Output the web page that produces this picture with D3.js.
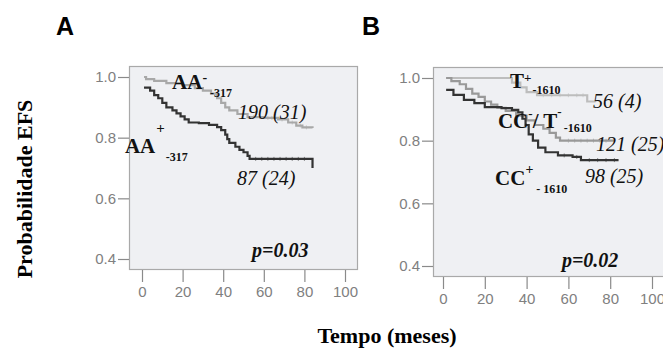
<!DOCTYPE html>
<html>
<head>
<meta charset="utf-8">
<script src="https://cdn.jsdelivr.net/npm/d3@7"></script>
<style>
  body { margin: 0; background: #fff; }
  svg { display: block; }
</style>
</head>
<body>
<svg id="chart" width="663" height="351"></svg>
<script>
// tick values
const ticksX = [0, 20, 40, 60, 80, 100];
const ticksY = [0.4, 0.6, 0.8, 1.0];

// panel A, AA- (gray) and AA+ (black)
const aNegTime = [1, 2, 6, 12, 20, 26, 30, 34, 37, 39, 41, 43, 47, 52, 60, 67, 72, 76, 79, 84];
const aNegSurv = [1.0, 0.993, 0.987, 0.98, 0.973, 0.963, 0.955, 0.945, 0.93, 0.915, 0.9, 0.89, 0.878, 0.868, 0.865, 0.86, 0.85, 0.84, 0.834, 0.832];
const aNegCens = [55, 58, 62, 64, 69, 74, 78, 81];

const aPosTime = [1, 4, 6, 8, 10, 12, 15, 17, 19, 21, 23, 28, 33, 37, 39, 41, 42, 43, 46, 48, 50, 52, 53, 84];
const aPosSurv = [0.965, 0.955, 0.94, 0.93, 0.915, 0.9, 0.89, 0.88, 0.87, 0.86, 0.85, 0.848, 0.842, 0.835, 0.825, 0.81, 0.795, 0.783, 0.77, 0.76, 0.752, 0.74, 0.73, 0.70];
const aPosCens = [56, 59, 62, 65, 68, 71, 74, 77, 80];

// panel B, T+ (light), CC-/T- (mid gray), CC+ (black)
const bTpTime = [1.5, 33, 37, 40, 45, 69, 73];
const bTpSurv = [1.0, 0.985, 0.97, 0.955, 0.945, 0.925, 0.925];
const bTpCens = [48, 52, 56, 60, 64, 67];

const bMidTime = [1.5, 4, 8, 11, 14, 17, 20, 23, 26, 30, 35, 40, 44, 48, 51, 54, 56, 82];
const bMidSurv = [1.0, 0.99, 0.98, 0.965, 0.95, 0.94, 0.925, 0.915, 0.905, 0.895, 0.88, 0.865, 0.85, 0.838, 0.825, 0.81, 0.80, 0.80];
const bMidCens = [60, 63, 66, 69, 72, 75, 78];

const bCCTime = [1.5, 5, 10, 15, 20, 28, 33, 36, 38, 39.5, 41, 43, 45.5, 49, 55, 62, 66, 84];
const bCCSurv = [0.962, 0.946, 0.93, 0.92, 0.907, 0.904, 0.898, 0.89, 0.87, 0.85, 0.82, 0.80, 0.778, 0.763, 0.753, 0.748, 0.738, 0.738];
const bCCCens = [58, 64, 70, 74, 78, 82];

const serif = "'Liberation Serif', 'Times New Roman', serif";
const sans = "'Liberation Sans', Arial, sans-serif";

let svg = d3.select("#chart");

function zip(t, s) {
    return t.map((d, i) => ({t: d, s: s[i]}));
}

// survival at time t (step function)
function survAt(time, surv, t) {
    let v = surv[0];
    for (let i = 0; i < time.length; i++) {
        if (time[i] <= t) v = surv[i];
    }
    return v;
}

function drawPanel(cfg) {
    let g = svg.append("g");

    let x = d3.scaleLinear().domain([0, 100]).range(cfg.xRange);
    let y = d3.scaleLinear().domain([0.4, 1.0]).range(cfg.yRange);

    // frame
    g.append("rect")
        .attr("x", cfg.box[0] + 0.5)
        .attr("y", cfg.box[1] + 0.5)
        .attr("width", cfg.box[2] - cfg.box[0])
        .attr("height", cfg.box[3] - cfg.box[1])
        .attr("fill", "#eff0f3")
        .attr("stroke", "#a9a9a9")
        .attr("stroke-width", 1.2);

    // y axis
    let ya = g.append("g")
        .attr("transform", `translate(${cfg.box[0]},0)`)
        .call(d3.axisLeft(y).tickValues(ticksY).tickFormat(d3.format(".1f")).tickSize(11).tickPadding(2));
    ya.select(".domain").remove();
    ya.selectAll("line").attr("stroke", "#8a8a8a").attr("stroke-width", 1.2);
    ya.selectAll("text").attr("fill", "#808080").style("font-family", sans).style("font-size", "15px");

    // x axis
    let xa = g.append("g")
        .attr("transform", `translate(0,${cfg.box[3] + 1})`)
        .call(d3.axisBottom(x).tickValues(ticksX).tickSize(12).tickPadding(4));
    xa.select(".domain").remove();
    xa.selectAll("line").attr("stroke", "#8a8a8a").attr("stroke-width", 1.2);
    xa.selectAll("text").attr("fill", "#808080").style("font-family", sans).style("font-size", "15px");

    let line = d3.line()
        .x(d => x(d.t))
        .y(d => y(d.s))
        .curve(d3.curveStepAfter);

    cfg.series.forEach(function (se) {
        g.append("path")
            .datum(zip(se.time, se.surv))
            .attr("d", line)
            .attr("fill", "none")
            .attr("stroke", se.color)
            .attr("stroke-width", 2.2);

        // censor marks
        g.selectAll(null)
            .data(se.cens)
            .enter().append("line")
            .attr("x1", d => x(d))
            .attr("x2", d => x(d))
            .attr("y1", d => y(survAt(se.time, se.surv, d)) - 2)
            .attr("y2", d => y(survAt(se.time, se.surv, d)) + 2)
            .attr("stroke", se.color)
            .attr("stroke-opacity", 0.7)
            .attr("stroke-width", 0.8);
    });

    // curve labels with super/subscripts
    cfg.labels.forEach(function (lb) {
        let txt = g.append("text")
            .attr("x", x(lb.t))
            .attr("y", y(lb.s))
            .attr("fill", "#111")
            .style("font-family", serif);
        lb.parts.forEach(function (p) {
            txt.append("tspan")
                .attr("dy", p.dy || 0)
                .attr("dx", p.dx || 0)
                .style("font-size", p.size + "px")
                .style("font-weight", p.bold === false ? "normal" : "bold")
                .style("font-style", p.italic ? "italic" : "normal")
                .text(p.text);
        });
    });

    // letter
    g.append("text")
        .attr("x", cfg.letter[0])
        .attr("y", cfg.letter[1])
        .attr("fill", "#000")
        .style("font-family", sans)
        .style("font-weight", "bold")
        .style("font-size", "25px")
        .text(cfg.name);
}

drawPanel({
    name: "A",
    letter: [56, 35],
    box: [129, 66, 357, 269],
    xRange: [142, 345],
    yRange: [259, 77],
    series: [
        {time: aNegTime, surv: aNegSurv, cens: aNegCens, color: "#a8a8a8"},
        {time: aPosTime, surv: aPosSurv, cens: aPosCens, color: "#333"}
    ],
    labels: [
        {t: 14.8, s: 0.960, parts: [
            {text: "AA", size: 21},
            {text: "-", size: 14, dy: -7},
            {text: "-317", size: 12, dy: 15, dx: 3}]},
        {t: -8.4, s: 0.750, parts: [
            {text: "AA", size: 21},
            {text: "+", size: 15, dy: -20, dx: 1},
            {text: "-317", size: 12, dy: 28, dx: 1}]},
        {t: 47.3, s: 0.862, parts: [{text: "190 (31)", size: 20, bold: false, italic: true}]},
        {t: 46.8, s: 0.644, parts: [{text: "87 (24)", size: 20, bold: false, italic: true}]},
        {t: 54.2, s: 0.407, parts: [{text: "p=0.03", size: 20, italic: true}]}
    ]
});

drawPanel({
    name: "B",
    letter: [362, 35],
    box: [433, 67, 666, 276],
    xRange: [443, 652],
    yRange: [266, 78],
    series: [
        {time: bTpTime, surv: bTpSurv, cens: bTpCens, color: "#bdbdbd"},
        {time: bMidTime, surv: bMidSurv, cens: bMidCens, color: "#999"},
        {time: bCCTime, surv: bCCSurv, cens: bCCCens, color: "#333"}
    ],
    labels: [
        {t: 32.1, s: 0.968, parts: [
            {text: "T", size: 21},
            {text: "+", size: 13, dy: -6},
            {text: "-1610", size: 12, dy: 12, dx: 1}]},
        {t: 26.3, s: 0.840, parts: [
            {text: "CC", size: 21},
            {text: "-", size: 13, dy: -10},
            {text: "/ T", size: 21, dy: 10},
            {text: "-", size: 13, dy: -12},
            {text: "-1610", size: 12, dy: 16, dx: 2}]},
        {t: 71.8, s: 0.904, parts: [{text: "56 (4)", size: 20, bold: false, italic: true}]},
        {t: 73.2, s: 0.767, parts: [{text: "121 (25)", size: 20, bold: false, italic: true}]},
        {t: 24.9, s: 0.658, parts: [
            {text: "CC", size: 21},
            {text: "+", size: 14, dy: -11},
            {text: "- 1610", size: 12, dy: 19, dx: 3}]},
        {t: 67.9, s: 0.665, parts: [{text: "98 (25)", size: 20, bold: false, italic: true}]},
        {t: 56.9, s: 0.397, parts: [{text: "p=0.02", size: 20, italic: true}]}
    ]
});

// axis titles
svg.append("text")
    .attr("transform", "translate(32,189) rotate(-90)")
    .attr("text-anchor", "middle")
    .attr("fill", "#000")
    .style("font-family", serif)
    .style("font-weight", "bold")
    .style("font-size", "22px")
    .text("Probabilidade EFS");

svg.append("text")
    .attr("x", 387)
    .attr("y", 343)
    .attr("text-anchor", "middle")
    .attr("fill", "#000")
    .style("font-family", serif)
    .style("font-weight", "bold")
    .style("font-size", "22px")
    .text("Tempo (meses)");
</script>
</body>
</html>
